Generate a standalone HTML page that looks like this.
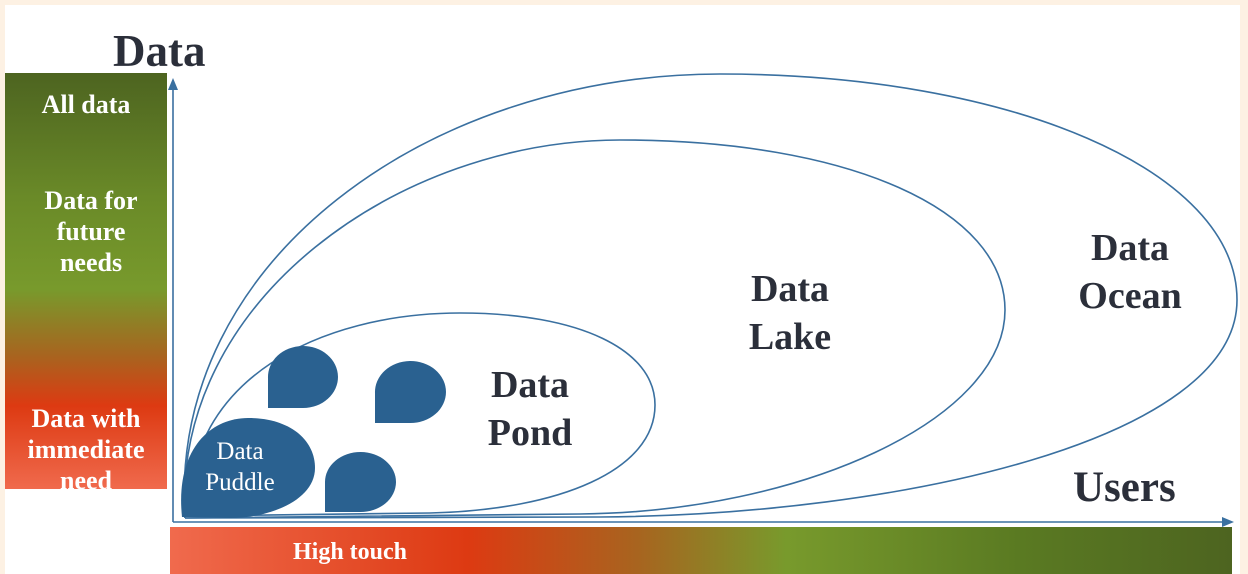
<!DOCTYPE html>
<html><head><style>
body{margin:0;width:1248px;height:574px;background:#fdf1e3;position:relative;overflow:hidden;font-family:"Liberation Serif",serif;}
.w{position:absolute;left:5px;top:5px;width:1235px;height:569px;background:#fff;}
.lb{position:absolute;left:5px;top:73px;width:162px;height:416px;background:linear-gradient(#4d6420 0%,#6a8a28 30%,#789a2c 52%,#a8641f 68%,#dd3a12 80%,#f06a4d 100%);}
.bb{position:absolute;left:170px;top:527px;width:1062px;height:47px;background:linear-gradient(90deg,#f06a4d 0%,#dd3a12 28%,#a8641f 44%,#789a2c 58%,#5a7a22 80%,#4d6420 100%);}
.t{position:absolute;color:#fff;font-weight:bold;text-align:center;line-height:31px;font-size:26px;}
.k{position:absolute;color:#2b2f3a;font-weight:bold;text-align:center;}
</style></head><body>
<div class="w"></div>
<div class="lb"></div>
<div class="bb"></div>
<div class="t" style="left:5px;width:162px;top:89px;">All data</div>
<div class="t" style="left:10px;width:162px;top:185px;">Data for<br>future<br>needs</div>
<div class="t" style="left:5px;width:162px;top:403px;">Data with<br>immediate<br>need</div>
<div class="t" style="left:260px;width:180px;top:537px;font-size:24px;">High touch</div>
<div class="k" style="left:113px;top:25px;font-size:45px;">Data</div>
<div class="k" style="left:1073px;top:463px;font-size:43px;">Users</div>
<svg style="position:absolute;left:0;top:0" width="1248" height="574">
<g fill="none" stroke="#3a70a0" stroke-width="1.6">
<path d="M185,518 C168,260 430,74 720,74 C1010,74 1237,170 1237,300 C1237,440 900,515 600,517 L185,518"/>
<path d="M185,518 C172,300 400,140 620,140 C850,140 1005,210 1005,310 C1005,420 800,512 580,514 L185,518"/>
<path d="M190,516 C185,380 320,313 460,313 C580,313 655,350 655,405 C655,470 560,510 430,513 L190,516"/>
<line x1="173" y1="522" x2="1228" y2="522"/>
<line x1="173" y1="522" x2="173" y2="86"/>
</g>
<polygon points="173,78 168,90 178,90" fill="#3a70a0"/>
<polygon points="1234,522 1222,517 1222,527" fill="#3a70a0"/>
<g fill="#2a6190">
<path d="M182,517 C175,450 210,418 248,418 C290,418 315,440 315,468 C315,500 270,518 230,518 Z"/>
<path d="M268,408 L268,378 A35,31 0 1 1 303,408 Z"/>
<path d="M375,423 L375,393 A35.5,31 0 1 1 410,423 Z"/>
<path d="M325,512 L325,482 A35.5,30 0 1 1 360,512 Z"/>
</g>
</svg>
<div class="t" style="left:190px;width:100px;top:436px;font-weight:normal;font-size:25px;line-height:31px;">Data<br>Puddle</div>
<div class="k" style="left:460px;width:140px;top:361px;font-size:38px;line-height:48px;">Data<br>Pond</div>
<div class="k" style="left:720px;width:140px;top:265px;font-size:38px;line-height:48px;">Data<br>Lake</div>
<div class="k" style="left:1055px;width:150px;top:224px;font-size:38px;line-height:48px;">Data<br>Ocean</div>
</body></html>
